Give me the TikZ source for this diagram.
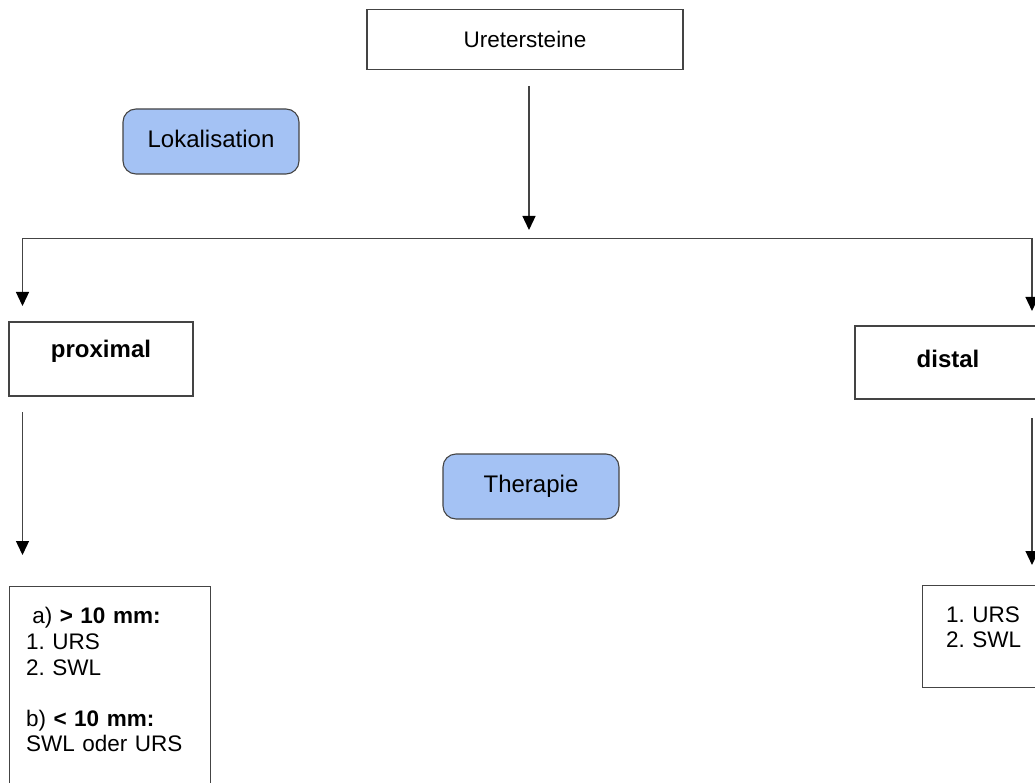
\documentclass[tikz,border=0pt]{standalone}
\usepackage{fontspec}
\setmainfont{Liberation Sans}
\usetikzlibrary{arrows.meta}
\frenchspacing

\definecolor{tagblue}{HTML}{A4C2F4}
\definecolor{linegray}{HTML}{444444}

\begin{document}
\begin{tikzpicture}[x=1pt, y=-1pt, >={Triangle[width=13pt,length=14pt,color=black]},
  box/.style={draw=linegray, line width=1.2pt, inner sep=0pt},
  tag/.style={draw=linegray, fill=tagblue, rounded corners=13pt, line width=1.1pt,
    minimum width=176pt, minimum height=65pt, text height=17.5pt, text depth=6pt,
    font=\fontsize{24}{28}\selectfont},
  arr/.style={->, draw=linegray, line width=1.3pt}]
  \path[use as bounding box, clip] (0,0) rectangle (1035,783);
  % top box
  \node[box, minimum width=316pt, minimum height=60pt, font=\fontsize{22.5}{26}\selectfont] (ure) at (525,39.5) {Uretersteine};
  % blue labels
  \node[tag] (lok) at (211,141.5) {Lokalisation};
  \node[tag] (ther) at (531,486.5) {Therapie};
  % localisation boxes
  \node[box, minimum width=184pt, minimum height=74pt, text height=17.5pt, text depth=21pt,
    font=\bfseries\fontsize{24}{28}\selectfont] (prox) at (101,359) {proximal};
  \node[box, minimum width=186pt, minimum height=73pt, text height=17.5pt, text depth=8.5pt,
    font=\bfseries\fontsize{24}{28}\selectfont] (dist) at (948,362.5) {distal};
  % therapy boxes
  \node[box, anchor=north west, align=left, text width=168pt, inner xsep=16.5pt, inner ysep=21pt,
    font=\fontsize{22.5}{25.6}\selectfont] (proxther) at (9,586)
    {\hspace*{6.25pt}a) \textbf{> 10 mm:}\\1. URS\\2. SWL\\\mbox{}\\b) \textbf{< 10 mm:}\\SWL oder URS\\\mbox{}};
  \node[box, anchor=north west, align=left, text width=80pt, inner xsep=23.5pt, inner ysep=20.9pt,
    font=\fontsize{22.5}{25.6}\selectfont] (distther) at (922,585)
    {1. URS\\2. SWL\\[-7.1pt]\mbox{}};
  % connectors
  \coordinate (ureout) at (529,86);
  \coordinate (split) at (529,230);
  \coordinate (splitl) at (22.5,238.5);
  \coordinate (splitr) at (1032,238.5);
  \coordinate (proxin) at (22.5,306);
  \coordinate (distin) at (1032,311);
  \coordinate (proxout) at (22.5,412);
  \coordinate (distout) at (1032,418);
  \coordinate (proxtherin) at (22.5,555);
  \coordinate (disttherin) at (1032,565);
  \draw[arr] (ureout) -- (split);
  \draw[arr] (splitr) -- (splitl) -- (proxin);
  \draw[arr] (splitl) -- (splitr) -- (distin);
  \draw[arr] (proxout) -- (proxtherin);
  \draw[arr] (distout) -- (disttherin);
\end{tikzpicture}
\end{document}
